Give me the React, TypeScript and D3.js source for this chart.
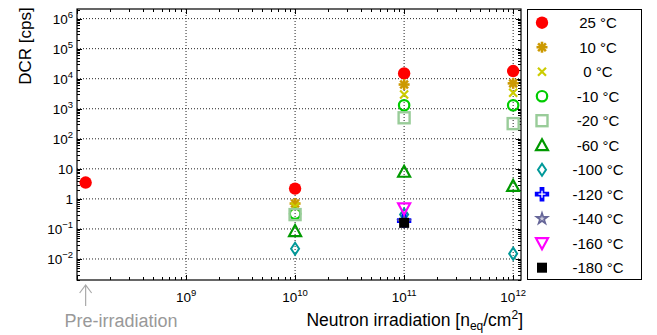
import React, { useRef, useEffect } from 'react';
import * as d3 from 'd3';

// x positions: pre-irradiation point drawn at 1.2e8, then the three fluences
const fluence = [1.2e8, 1e10, 1e11, 1e12];

const temps = ['25 °C', '10 °C', '0 °C', '-10 °C', '-20 °C', '-60 °C', '-100 °C', '-120 °C', '-140 °C', '-160 °C', '-180 °C'];

const dcr25 = [3.5, 2.2, 1.5e4, 1.8e4];
const dcr10 = [null, 0.7, 6.4e3, 7e3];
const dcr0 = [null, 0.55, 3e3, 3.4e3];
const dcrM10 = [null, 0.32, 1.3e3, 1.3e3];
const dcrM20 = [null, 0.3, 5e2, 3.2e2];
const dcrM60 = [null, 0.085, 8, 2.7];
const dcrM100 = [null, 0.022, 0.3, 0.015];
const dcrM120 = [null, null, 0.19, null];
const dcrM140 = [null, null, 0.17, null];
const dcrM160 = [null, null, 0.48, null];
const dcrM180 = [null, null, 0.16, null];

const series = [dcr25, dcr10, dcr0, dcrM10, dcrM20, dcrM60, dcrM100, dcrM120, dcrM140, dcrM160, dcrM180];
const markers = ['dot', 'asterisk', 'times', 'circle', 'square', 'triUp', 'diamond', 'cross', 'star', 'triDown', 'block'];

const xTicks = [1e9, 1e10, 1e11, 1e12];
const yTicks = [1e6, 1e5, 1e4, 1e3, 1e2, 10, 1, 0.1, 0.01];

function drawMarker(g, type, cx, cy) {
    const m = g.append('g').attr('transform', 'translate(' + cx + ',' + cy + ')');
    if (type === 'dot') {
        m.append('circle').attr('r', 6.2).attr('fill', '#ff0000');
    } else if (type === 'asterisk') {
        [0, 45, 90, 135].forEach(a => {
            const r = a * Math.PI / 180;
            m.append('line')
                .attr('x1', -5.5 * Math.cos(r)).attr('y1', -5.5 * Math.sin(r))
                .attr('x2', 5.5 * Math.cos(r)).attr('y2', 5.5 * Math.sin(r))
                .attr('stroke', '#cc9900').attr('stroke-width', 2.6);
        });
    } else if (type === 'times') {
        m.append('path').attr('d', 'M-4,-4L4,4M-4,4L4,-4')
            .attr('stroke', '#cccc00').attr('stroke-width', 2.2).attr('fill', 'none');
    } else if (type === 'circle') {
        m.append('circle').attr('r', 5.2).attr('fill', 'none')
            .attr('stroke', '#00cc00').attr('stroke-width', 2.2);
    } else if (type === 'square') {
        m.append('rect').attr('x', -5.5).attr('y', -5.5).attr('width', 11).attr('height', 11)
            .attr('fill', 'none').attr('stroke', '#99cc99').attr('stroke-width', 2.4);
    } else if (type === 'triUp') {
        m.append('path').attr('d', 'M0,-6L6,5L-6,5Z').attr('fill', 'none')
            .attr('stroke', '#009900').attr('stroke-width', 2.2);
    } else if (type === 'diamond') {
        m.append('path').attr('d', 'M0,-6L4,0L0,6L-4,0Z').attr('fill', 'none')
            .attr('stroke', '#009999').attr('stroke-width', 2);
    } else if (type === 'cross') {
        m.append('path').attr('d', d3.symbol(d3.symbolCross, 115)()).attr('fill', '#0000ff');
        m.append('path').attr('d', 'M-3.5,0L3.5,0M0,-3.5L0,3.5')
            .attr('stroke', '#ffffff').attr('stroke-width', 1.3);
    } else if (type === 'star') {
        m.append('path').attr('d', d3.symbol(d3.symbolStar, 80)()).attr('fill', '#666699');
        m.append('path').attr('d', d3.symbol(d3.symbolStar, 10)()).attr('fill', '#ccccdd');
    } else if (type === 'triDown') {
        m.append('path').attr('d', 'M0,6L6,-5L-6,-5Z').attr('fill', 'none')
            .attr('stroke', '#ff00ff').attr('stroke-width', 2.2);
    } else if (type === 'block') {
        m.append('rect').attr('x', -5).attr('y', -5).attr('width', 10).attr('height', 10)
            .attr('fill', '#000000');
    }
}

function powText(sel, v) {
    const e = Math.round(Math.log10(v));
    if (e === 0) { sel.append('tspan').text('1'); return; }
    if (e === 1) { sel.append('tspan').text('10'); return; }
    sel.append('tspan').text('10');
    sel.append('tspan').attr('dy', '-0.6em').style('font-size', '9.5px')
        .text(e < 0 ? '\u2212' + Math.abs(e) : String(e));
}

function DcrChart() {
    const ref = useRef(null);

    useEffect(() => {
        const svg = d3.select(ref.current);
        svg.selectAll('*').remove();

        const left = 77, right = 521, top = 9, bottom = 280;

        const x = d3.scaleLog().domain([1e8, 1.18e12]).range([left, right]);
        const y = d3.scaleLog().domain([Math.pow(10, -2.7), Math.pow(10, 6.32)]).range([bottom, top]);

        const font = '"Liberation Sans", Arial, Helvetica, sans-serif';

        // grid
        const grid = svg.append('g').attr('stroke', '#222').attr('stroke-width', 1)
            .attr('stroke-dasharray', '1,2');
        xTicks.forEach(t => {
            grid.append('line').attr('x1', x(t)).attr('x2', x(t)).attr('y1', top).attr('y2', bottom);
        });
        yTicks.forEach(t => {
            grid.append('line').attr('x1', left).attr('x2', right).attr('y1', y(t)).attr('y2', y(t));
        });

        // ticks, pointing inward on all four sides
        const ticks = svg.append('g').attr('stroke', '#000').attr('stroke-width', 1);
        for (let e = 8; e <= 12; e++) {
            for (let k = 1; k <= 9; k++) {
                const v = k * Math.pow(10, e);
                if (v < 1e8 || v > 1.18e12) continue;
                const len = k === 1 ? 5 : 3;
                const px = Math.round(x(v)) + 0.5;
                ticks.append('line').attr('x1', px).attr('x2', px).attr('y1', bottom).attr('y2', bottom - len);
                ticks.append('line').attr('x1', px).attr('x2', px).attr('y1', top).attr('y2', top + len);
            }
        }
        for (let e = -3; e <= 6; e++) {
            for (let k = 1; k <= 9; k++) {
                const v = k * Math.pow(10, e);
                if (v < y.domain()[0] || v > y.domain()[1]) continue;
                const len = k === 1 ? 5 : 3;
                const py = Math.round(y(v)) + 0.5;
                ticks.append('line').attr('x1', left).attr('x2', left + len).attr('y1', py).attr('y2', py);
                ticks.append('line').attr('x1', right).attr('x2', right - len).attr('y1', py).attr('y2', py);
            }
        }

        svg.append('rect').attr('x', left).attr('y', top).attr('width', right - left).attr('height', bottom - top)
            .attr('fill', 'none').attr('stroke', '#000').attr('stroke-width', 1.2);

        // tick labels
        xTicks.forEach(t => {
            const tx = svg.append('text').attr('x', x(t)).attr('y', 302)
                .attr('text-anchor', 'middle').style('font-family', font).style('font-size', '13.5px');
            powText(tx, t);
        });
        yTicks.forEach(t => {
            const ty = svg.append('text').attr('x', 73).attr('y', y(t) + 5)
                .attr('text-anchor', 'end').style('font-family', font).style('font-size', '13.5px');
            powText(ty, t);
        });

        // axis labels
        svg.append('text')
            .attr('transform', 'translate(31,46) rotate(-90)')
            .attr('text-anchor', 'middle')
            .style('font-family', font).style('font-size', '17px')
            .text('DCR [cps]');

        const xl = svg.append('text').attr('x', 523).attr('y', 326).attr('text-anchor', 'end')
            .style('font-family', font).style('font-size', '17.5px');
        xl.append('tspan').text('Neutron irradiation [n');
        xl.append('tspan').attr('dy', '4').style('font-size', '12px').text('eq');
        xl.append('tspan').attr('dy', '-4').text('/cm');
        xl.append('tspan').attr('dy', '-7').style('font-size', '12px').text('2');
        xl.append('tspan').attr('dy', '7').text(']');

        // pre-irradiation marker
        const ax = x(fluence[0]);
        svg.append('path')
            .attr('d', 'M' + ax + ',306L' + ax + ',285M' + (ax - 6) + ',293L' + ax + ',285L' + (ax + 6) + ',293')
            .attr('stroke', '#aaaaaa').attr('stroke-width', 1.2).attr('fill', 'none');
        svg.append('text').attr('x', 121).attr('y', 327).attr('text-anchor', 'middle')
            .style('font-family', font).style('font-size', '18px').attr('fill', '#999999')
            .text('Pre-irradiation');

        // data
        const pts = svg.append('g');
        series.forEach((s, i) => {
            s.forEach((v, j) => {
                if (v == null) return;
                drawMarker(pts, markers[i], x(fluence[j]), y(v));
            });
        });

        // legend
        const lg = svg.append('g');
        lg.append('rect').attr('x', 527.5).attr('y', 9.5).attr('width', 114).attr('height', 270)
            .attr('fill', '#fff').attr('stroke', '#000').attr('stroke-width', 1);
        const ly = d3.scaleLinear().domain([0, temps.length - 1]).range([22.7, 267.7]);
        temps.forEach((t, i) => {
            drawMarker(lg, markers[i], 542, ly(i));
            lg.append('text').attr('x', 598).attr('y', ly(i) + 5.5).attr('text-anchor', 'middle')
                .style('font-family', font).style('font-size', '15px').text(t);
        });
    }, []);

    return <svg ref={ref} width="657" height="335" style={{ display: 'block' }} />;
}

export default function App() {
    return (
        <div style={{ position: 'absolute', left: 0, top: 0 }}>
            <DcrChart />
        </div>
    );
}
